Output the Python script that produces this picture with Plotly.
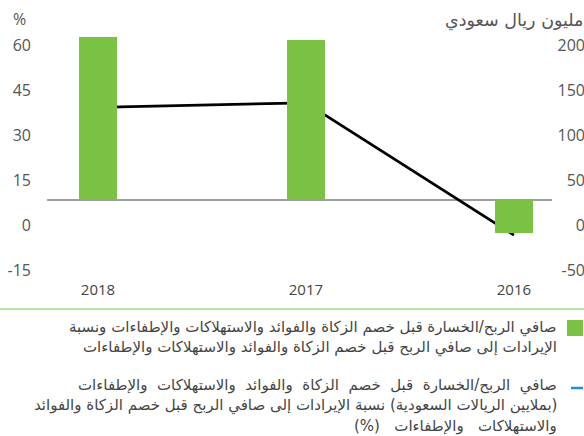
import plotly.graph_objects as go

# ---------------- data ----------------
years = ["2018", "2017", "2016"]
ebitda_msar = [181, 178, -37]            # bars, million SAR (right axis)
ebitda_margin_pct = [30.9, 32.4, -11.7]  # line, % (left axis)

left_tick_labels = [-15, 0, 15, 30, 45, 60]
right_tick_labels = [-50, 0, 50, 100, 150, 200]

left_title = "%"
right_title = "مليون ريال سعودي"
legend_bar = ["صافي الربح/الخسارة قبل خصم الزكاة والفوائد والاستهلاكات والإطفاءات ونسبة",
              "الإيرادات إلى صافي الربح قبل خصم الزكاة والفوائد والاستهلاكات والإطفاءات"]
legend_line = ["صافي الربح/الخسارة قبل خصم الزكاة والفوائد والاستهلاكات والإطفاءات",
               "(بملايين الريالات السعودية) نسبة الإيرادات إلى صافي الربح قبل خصم الزكاة والفوائد",
               "والاستهلاكات والإطفاءات (%)"]
# the original text block is justified: extra word spacing per line (in spaces)
legend_bar_extra_space = [0, 0]
legend_line_extra_space = [1, 0, 2]

# ---------------- geometry / style ----------------
VIEW_W = 584
W, H = 590, 436          # figure slightly wider than the view (extra is hidden)
PLOT_TOP, PLOT_BOT = 20, 280
ZERO_PX = 200
PX_PER_PCT = 3.0
PX_PER_M = 0.9
LABEL_SHIFT_PX = 25  # tick labels in the original sit below their true level

GREEN = "#7BC144"
BLUE = "#1E90E0"
GRAY = "#555555"
TEXT = "#444444"

left_range = [-(PLOT_BOT - ZERO_PX) / PX_PER_PCT, (ZERO_PX - PLOT_TOP) / PX_PER_PCT]
right_range = [-(PLOT_BOT - ZERO_PX) / PX_PER_M, (ZERO_PX - PLOT_TOP) / PX_PER_M]
left_tickvals = [v - LABEL_SHIFT_PX / PX_PER_PCT for v in left_tick_labels]
right_tickvals = [v - LABEL_SHIFT_PX / PX_PER_M for v in right_tick_labels]

X0_PX, X1_PX = 47, 552


def py(p):  # pixel y -> paper y
    return (PLOT_BOT - p) / (PLOT_BOT - PLOT_TOP)


def px(p):  # pixel x -> paper x
    return p / W


RLM = "\u200f"

fig = go.Figure()
fig.add_trace(go.Bar(x=years, y=ebitda_msar, yaxis="y2", marker=dict(color=GREEN, line=dict(width=0)),
                     width=0.183, showlegend=False))
fig.add_trace(go.Scatter(x=years, y=ebitda_margin_pct, yaxis="y", mode="lines",
                         line=dict(color="black", width=2.8), showlegend=False))

fig.update_layout(
    width=W, height=H,
    margin=dict(l=0, r=0, t=PLOT_TOP, b=H - PLOT_BOT, autoexpand=False),
    paper_bgcolor="white", plot_bgcolor="white",
    font=dict(family="Open Sans, DejaVu Sans", color=GRAY),
    xaxis=dict(domain=[px(X0_PX), px(X1_PX)], type="category", categoryorder="array",
               categoryarray=years, range=[-0.245, 2.183], showgrid=False, zeroline=False,
               showline=False, ticks="", tickfont=dict(size=15, color=TEXT),
               ticklabelstandoff=-1, automargin=False),
    yaxis=dict(range=left_range, tickvals=left_tickvals, ticktext=[str(v) for v in left_tick_labels],
               showgrid=False, zeroline=True, zerolinecolor="#A0A0A0", zerolinewidth=1.5,
               showline=False, ticks="", anchor="free", position=px(31), automargin=False,
               tickfont=dict(size=16, color=GRAY)),
    # right-hand scale: labels right-aligned against the right edge
    yaxis2=dict(range=right_range, tickvals=right_tickvals, ticktext=[str(v) for v in right_tick_labels],
                overlaying="y", side="left", anchor="free", position=px(VIEW_W + 1),
                showgrid=False, zeroline=False, showline=False, ticks="",
                automargin=False, tickfont=dict(size=16, color=GRAY)),
    bargap=0,
)

shapes = [
    dict(type="line", xref="paper", yref="paper", x0=0, x1=1, y0=py(309), y1=py(309),
         line=dict(color=GREEN, width=1.2)),
    dict(type="rect", xref="paper", yref="paper", x0=px(567), x1=px(583), y0=py(336), y1=py(320),
         fillcolor=GREEN, line=dict(width=0)),
    dict(type="line", xref="paper", yref="paper", x0=px(571), x1=px(583), y0=py(388), y1=py(388),
         line=dict(color=BLUE, width=2.5)),
]
fig.update_layout(shapes=shapes)

annotations = [
    dict(text=left_title, xref="paper", yref="paper", x=px(11), y=py(19), xanchor="left",
         yanchor="middle", showarrow=False, font=dict(size=16, color=GRAY)),
    dict(text=RLM + right_title, xref="paper", yref="paper", x=px(VIEW_W + 1), y=py(20), xanchor="right",
         yanchor="middle", showarrow=False, font=dict(size=17.5, color=GRAY, family="DejaVu Sans")),
]
legend_blocks = [(legend_bar, legend_bar_extra_space, 327), (legend_line, legend_line_extra_space, 385)]
LINE_STEP = 20.5
for lines, extra, y_first in legend_blocks:
    for i, s in enumerate(lines):
        txt = s.replace(" ", " " * (1 + extra[i]))
        annotations.append(dict(text=RLM + txt + RLM, xref="paper", yref="paper", x=px(559),
                                y=py(y_first + i * LINE_STEP), xanchor="right", yanchor="middle",
                                showarrow=False, font=dict(size=15, color=TEXT, family="DejaVu Sans")))
fig.update_layout(annotations=annotations)

fig.write_html("out.html", config={"displayModeBar": False},
               post_script="document.body.style.margin='0';document.body.style.overflow='hidden';")
